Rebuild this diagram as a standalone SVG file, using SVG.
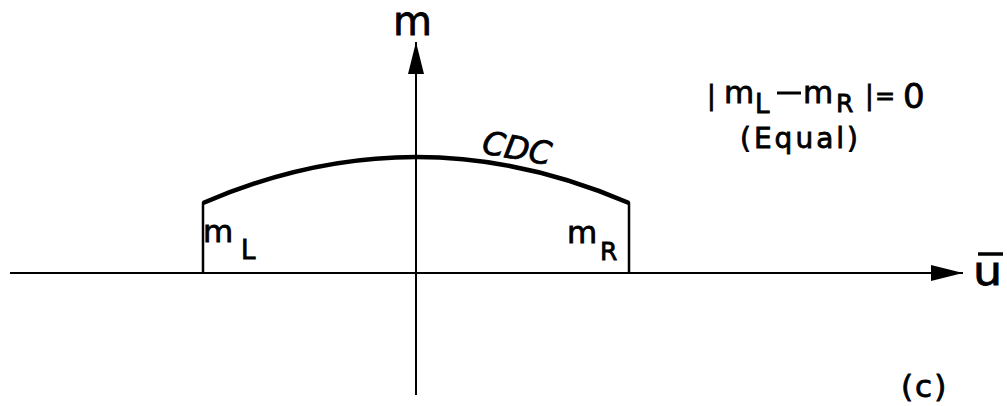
<svg xmlns="http://www.w3.org/2000/svg" width="1007" height="406" viewBox="0 0 1007 406">
<style>
.t{font-family:"DejaVu Sans","Liberation Sans",Arial,sans-serif;fill:#000;stroke:#000;stroke-width:0.8}
.ax{stroke:#000;stroke-width:2;fill:none}
</style>
<defs>
<marker id="ah" markerWidth="34" markerHeight="20" refX="32" refY="10" orient="auto" markerUnits="userSpaceOnUse">
<path d="M0,2 L32,10 L0,18 Z" fill="#000"/>
</marker>
</defs>
<rect width="1007" height="406" fill="#fff"/>
<g id="connectors">
<line class="ax" x1="10" y1="273" x2="963" y2="273" marker-end="url(#ah)"/>
<line class="ax" x1="416" y1="395" x2="416" y2="42" marker-end="url(#ah)"/>
</g>
<g id="cdc">
<path d="M203,273 L203,203 Q416,111 629,203 L629,273" fill="none" stroke="#000" stroke-width="2.5"/>
<path d="M203,203 Q416,111 629,203" fill="none" stroke="#000" stroke-width="4.5"/>
<text class="t" x="481" y="153" font-size="32" font-style="italic" transform="rotate(10 481 153)">CDC</text>
</g>
<g id="labels">
<text class="t" x="393" y="35" font-size="40">m</text>
<text class="t" x="0" y="0" font-size="40" transform="translate(973 285) scale(1.15 1)">u</text>
<line x1="978" y1="254" x2="1003" y2="254" stroke="#000" stroke-width="3.5"/>
<text class="t" x="203" y="242" font-size="31">m</text>
<text class="t" x="241" y="259" font-size="26">L</text>
<text class="t" x="567" y="243" font-size="31">m</text>
<text class="t" x="600" y="260" font-size="25">R</text>
<text class="t" font-size="26" x="707" y="104">|</text>
<text class="t" font-size="31" x="724" y="103">m</text>
<text class="t" font-size="26" x="755" y="113">L</text>
<line x1="777" y1="93" x2="801" y2="93" stroke="#000" stroke-width="3"/>
<text class="t" font-size="31" x="803" y="103">m</text>
<text class="t" font-size="25" x="836" y="112">R</text>
<text class="t" font-size="26" x="865" y="104">|</text>
<text class="t" font-size="24" x="875" y="104">=</text>
<text class="t" font-size="34" x="903" y="108">0</text>
<text class="t" font-size="28" x="740" y="148" letter-spacing="3">(Equal)</text>
<text class="t" font-size="31" x="901" y="397" letter-spacing="2">(c)</text>
</g>
</svg>
